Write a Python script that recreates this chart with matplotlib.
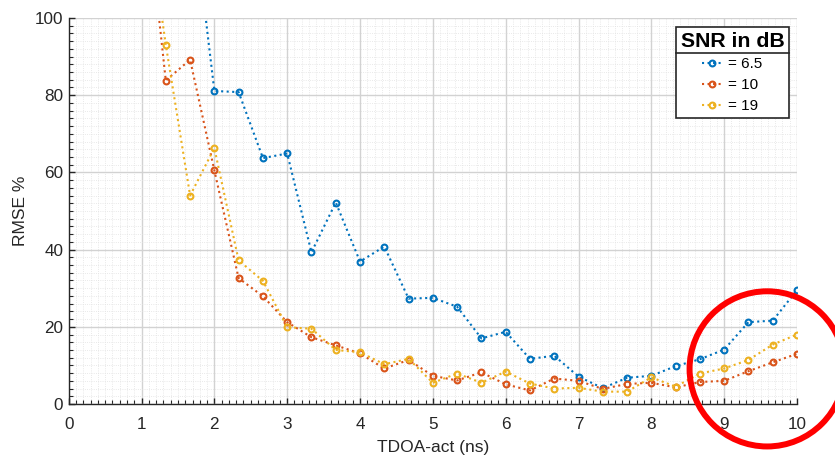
import matplotlib
matplotlib.use("Agg")
import matplotlib.pyplot as plt
from matplotlib.patches import Ellipse
from matplotlib.ticker import MultipleLocator
from matplotlib.lines import Line2D
import numpy as np

plt.rcParams['font.family'] = ['Liberation Sans', 'DejaVu Sans']

# ---- data ----
tdoa = [1.0, 1.333, 1.667, 2.0, 2.333, 2.667, 3.0, 3.333, 3.667, 4.0, 4.333, 4.667,
        5.0, 5.333, 5.667, 6.0, 6.333, 6.667, 7.0, 7.333, 7.667, 8.0, 8.333, 8.667,
        9.0, 9.333, 9.667, 10.0]
rmse_snr_6_5 = [250, 190, 134, 81.1, 80.8, 63.7, 64.9, 39.3, 52.2, 36.9, 40.8, 27.3,
                27.5, 25.2, 17.0, 18.7, 11.7, 12.5, 7.1, 4.1, 6.8, 7.3, 9.8, 11.6,
                14.1, 21.2, 21.6, 29.5]
rmse_snr_10 = [142, 83.8, 89.2, 60.5, 32.6, 27.9, 21.2, 17.3, 15.2, 13.1, 9.2, 11.4,
               7.3, 6.1, 8.2, 5.1, 3.5, 6.6, 6.0, 3.9, 5.2, 5.5, 4.3, 5.7,
               6.0, 8.5, 10.8, 13.0]
rmse_snr_19 = [137, 93.1, 54.0, 66.3, 37.2, 31.9, 19.9, 19.5, 14.0, 13.4, 10.3, 11.7,
               5.5, 7.9, 5.5, 8.4, 5.3, 4.0, 4.2, 3.2, 3.2, 6.9, 4.5, 7.9,
               9.2, 11.4, 15.4, 18.0]
series_labels = ['= 6.5', '= 10', '= 19']
legend_title = 'SNR in dB'
x_label = 'TDOA-act (ns)'
y_label = 'RMSE %'

colors = ['#0072BD', '#D95319', '#EDB120']
axcol = '#262626'

fig = plt.figure(figsize=(8.35, 4.57), dpi=100)
ax = fig.add_axes([68.7 / 835, 53 / 457, (797 - 68.7) / 835, (404 - 18) / 457])

for ys, c, lab in zip([rmse_snr_6_5, rmse_snr_10, rmse_snr_19], colors, series_labels):
    ax.plot(tdoa, ys, linestyle=':', color=c, lw=1.5, marker='o', ms=4.2,
            mfc='none', mec=c, mew=1.5, label=lab, zorder=3)

ax.set_xlim(0, 10)
ax.set_ylim(0, 100)
ax.xaxis.set_major_locator(MultipleLocator(1))
ax.xaxis.set_minor_locator(MultipleLocator(0.1))
ax.yaxis.set_major_locator(MultipleLocator(20))
ax.yaxis.set_minor_locator(MultipleLocator(2))

ax.grid(True, which='major', color='#d2d2d2', lw=1.0, ls='-', zorder=0)
ax.grid(True, which='minor', color='#e2e2e2', lw=0.6, ls=':', zorder=0)
ax.set_axisbelow(True)

for s in ['top', 'right']:
    ax.spines[s].set_visible(False)
for s in ['left', 'bottom']:
    ax.spines[s].set_color(axcol)
    ax.spines[s].set_linewidth(1.0)

ax.tick_params(which='both', direction='in', colors=axcol, labelsize=12.3,
               top=False, right=False)
ax.tick_params(which='major', length=4, width=1.0)
ax.tick_params(which='minor', length=2.8, width=0.8)
ax.tick_params(axis='x', which='major', pad=9.5)
ax.tick_params(axis='y', which='major', pad=4)
for t in ax.get_xticklabels() + ax.get_yticklabels():
    t.set_color(axcol)

ax.set_xlabel(x_label, fontsize=12.5, color=axcol, labelpad=5.5)
ax.set_ylabel(y_label, fontsize=12.5, color=axcol, labelpad=4.5)

leg = ax.legend(title=legend_title, loc='upper right',
                bbox_to_anchor=(789 / 835, (457 - 27) / 457),
                bbox_transform=fig.transFigure,
                fontsize=11, handlelength=1.25, handletextpad=0.45,
                labelspacing=0.45, borderpad=0.3, fancybox=False,
                framealpha=1, edgecolor=axcol, borderaxespad=0,
                alignment='center')
leg.get_title().set_fontsize(15.3)
leg.get_title().set_fontweight('bold')
leg.get_title().set_color('black')
leg.get_frame().set_linewidth(1.2)
for t in leg.get_texts():
    t.set_color('black')

# red highlight circle
circ = Ellipse((9.59, 9.1), 2.13, 40.2, fill=False, edgecolor='#ff0000', lw=4.3,
               clip_on=False, zorder=5)
ax.add_patch(circ)

# separator line under legend title
fig.canvas.draw()
r = fig.canvas.get_renderer()
lb = leg.get_frame().get_window_extent(r)
tb = leg.get_title().get_window_extent(r)
ysep = tb.y0 - 2
fig.add_artist(Line2D([lb.x0, lb.x1], [ysep, ysep], transform=None,
                      color=axcol, lw=1.2, zorder=10))

fig.savefig('out.png', dpi=100)
